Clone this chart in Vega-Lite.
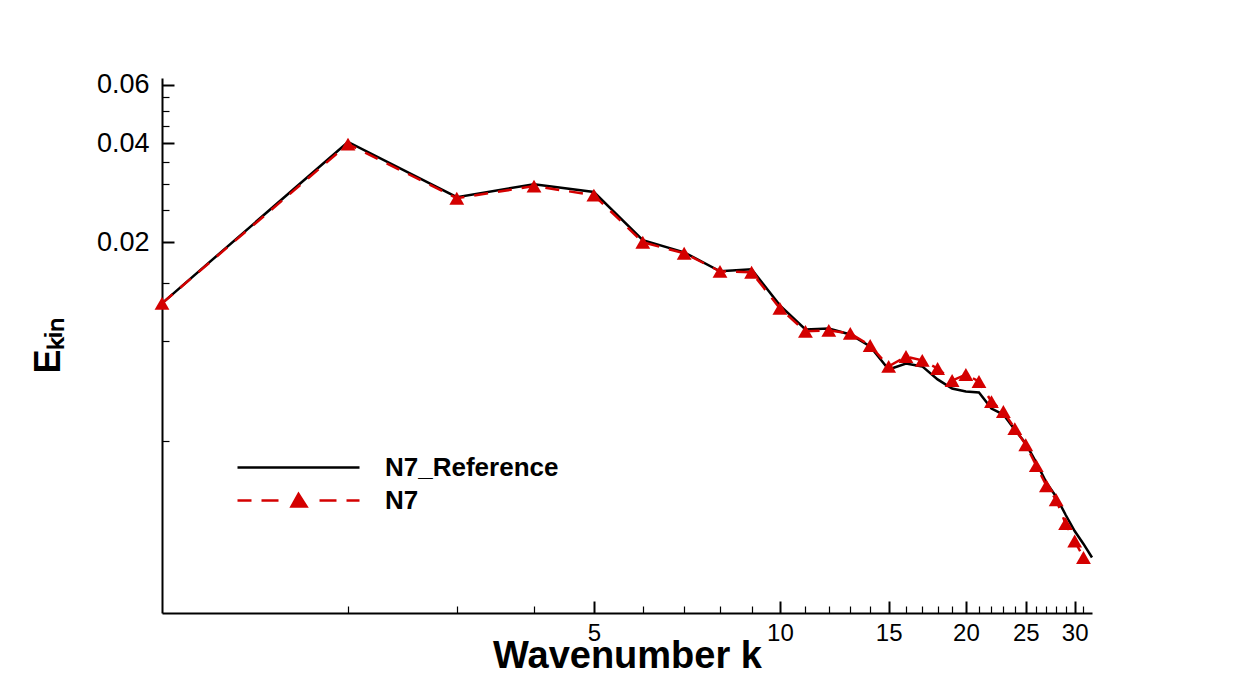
{
  "$schema": "https://vega.github.io/schema/vega-lite/v6.json",
  "width": 930,
  "height": 535,
  "autosize": {"type": "none"},
  "padding": {"left": 162, "top": 78, "right": 150, "bottom": 79},
  "background": "white",
  "config": {
    "view": {"stroke": null},
    "axis": {
      "grid": false,
      "domainColor": "black",
      "domainWidth": 2,
      "tickColor": "black",
      "labelFont": "Liberation Sans",
      "labelColor": "black",
      "titleFont": "Liberation Sans",
      "titleColor": "black",
      "titleFontWeight": "bold",
      "labelOverlap": false
    }
  },
  "data": {
    "values": [
      {"series": "N7_Reference", "k": 1, "E": 0.01305},
      {"series": "N7_Reference", "k": 2, "E": 0.0403},
      {"series": "N7_Reference", "k": 3, "E": 0.0274},
      {"series": "N7_Reference", "k": 4, "E": 0.0300},
      {"series": "N7_Reference", "k": 5, "E": 0.0284},
      {"series": "N7_Reference", "k": 6, "E": 0.0203},
      {"series": "N7_Reference", "k": 7, "E": 0.01864},
      {"series": "N7_Reference", "k": 8, "E": 0.01632},
      {"series": "N7_Reference", "k": 9, "E": 0.01656},
      {"series": "N7_Reference", "k": 10, "E": 0.01287},
      {"series": "N7_Reference", "k": 11, "E": 0.01088},
      {"series": "N7_Reference", "k": 12, "E": 0.01095},
      {"series": "N7_Reference", "k": 13, "E": 0.0105},
      {"series": "N7_Reference", "k": 14, "E": 0.00966},
      {"series": "N7_Reference", "k": 15, "E": 0.00822},
      {"series": "N7_Reference", "k": 16, "E": 0.00857},
      {"series": "N7_Reference", "k": 17, "E": 0.0084},
      {"series": "N7_Reference", "k": 18, "E": 0.00767},
      {"series": "N7_Reference", "k": 19, "E": 0.0072},
      {"series": "N7_Reference", "k": 20, "E": 0.00705},
      {"series": "N7_Reference", "k": 21, "E": 0.0070},
      {"series": "N7_Reference", "k": 22, "E": 0.00626},
      {"series": "N7_Reference", "k": 23, "E": 0.0060},
      {"series": "N7_Reference", "k": 24, "E": 0.0054},
      {"series": "N7_Reference", "k": 25, "E": 0.0049},
      {"series": "N7_Reference", "k": 26, "E": 0.00429},
      {"series": "N7_Reference", "k": 27, "E": 0.00373},
      {"series": "N7_Reference", "k": 28, "E": 0.00338},
      {"series": "N7_Reference", "k": 29, "E": 0.00298},
      {"series": "N7_Reference", "k": 30, "E": 0.00266},
      {"series": "N7_Reference", "k": 31, "E": 0.00243},
      {"series": "N7_Reference", "k": 32, "E": 0.00221},
      {"series": "N7", "k": 1, "E": 0.01305},
      {"series": "N7", "k": 2, "E": 0.0397},
      {"series": "N7", "k": 3, "E": 0.0272},
      {"series": "N7", "k": 4, "E": 0.0296},
      {"series": "N7", "k": 5, "E": 0.0278},
      {"series": "N7", "k": 6, "E": 0.0200},
      {"series": "N7", "k": 7, "E": 0.01852},
      {"series": "N7", "k": 8, "E": 0.01632},
      {"series": "N7", "k": 9, "E": 0.01622},
      {"series": "N7", "k": 10, "E": 0.0126},
      {"series": "N7", "k": 11, "E": 0.01073},
      {"series": "N7", "k": 12, "E": 0.0108},
      {"series": "N7", "k": 13, "E": 0.01058},
      {"series": "N7", "k": 14, "E": 0.00972},
      {"series": "N7", "k": 15, "E": 0.0084},
      {"series": "N7", "k": 16, "E": 0.0090},
      {"series": "N7", "k": 17, "E": 0.00876},
      {"series": "N7", "k": 18, "E": 0.00828},
      {"series": "N7", "k": 19, "E": 0.00761},
      {"series": "N7", "k": 20, "E": 0.00794},
      {"series": "N7", "k": 21, "E": 0.00756},
      {"series": "N7", "k": 22, "E": 0.00657},
      {"series": "N7", "k": 23, "E": 0.00613},
      {"series": "N7", "k": 24, "E": 0.00544},
      {"series": "N7", "k": 25, "E": 0.00486},
      {"series": "N7", "k": 26, "E": 0.0042},
      {"series": "N7", "k": 27, "E": 0.00365},
      {"series": "N7", "k": 28, "E": 0.00331},
      {"series": "N7", "k": 29, "E": 0.0028},
      {"series": "N7", "k": 30, "E": 0.00248},
      {"series": "N7", "k": 31, "E": 0.00221}
    ]
  },
  "layer": [
    {
      "transform": [{"filter": "datum.series == 'N7_Reference'"}],
      "mark": {"type": "line", "strokeWidth": 2.5},
      "encoding": {
        "x": {
          "field": "k",
          "type": "quantitative",
          "scale": {"type": "log", "domain": [1, 32], "nice": false},
          "axis": {
            "values": [2, 3, 4, 5, 6, 7, 8, 9, 10, 11, 12, 13, 14, 15, 16, 17, 18, 19, 20, 21, 22, 23, 24, 25, 26, 27, 28, 29, 30, 31],
            "format": "d",
            "labelExpr": "datum.value % 5 == 0 ? datum.label : ''",
            "labelFontSize": 24,
            "tickSize": {"condition": {"test": "datum.value % 5 == 0", "value": -12}, "value": -7},
            "tickWidth": {"condition": {"test": "datum.value % 5 == 0", "value": 2}, "value": 1.2},
            "labelPadding": 20,
            "title": "Wavenumber k",
            "titleFontSize": 38,
            "titlePadding": -13
          }
        },
        "y": {
          "field": "E",
          "type": "quantitative",
          "scale": {"type": "log", "domain": [0.0015, 0.063], "nice": false},
          "axis": {
            "values": [0.005, 0.01, 0.015, 0.02, 0.025, 0.03, 0.035, 0.04, 0.045, 0.05, 0.055, 0.06],
            "labelExpr": "indexof([0.02, 0.04, 0.06], datum.value) >= 0 ? format(datum.value, '.2f') : ''",
            "labelFontSize": 27,
            "tickSize": {"condition": {"test": "indexof([0.02, 0.04, 0.06], datum.value) >= 0", "value": -12}, "value": -7},
            "tickWidth": {"condition": {"test": "indexof([0.02, 0.04, 0.06], datum.value) >= 0", "value": 2}, "value": 1.2},
            "labelPadding": 25,
            "title": "Eₖᵢₙ",
            "titleFontSize": 36,
            "titlePadding": 29
          }
        },
        "color": {
          "field": "series",
          "type": "nominal",
          "scale": {"domain": ["N7_Reference", "N7"], "range": ["#000000", "#d40000"]},
          "legend": {
            "orient": "none",
            "legendX": 74,
            "legendY": 375,
            "direction": "vertical",
            "title": null,
            "padding": 0,
            "symbolType": "stroke",
            "symbolSize": 676,
            "symbolStrokeWidth": 2.5,
            "labelFont": "Liberation Sans",
            "labelFontSize": 26,
            "labelFontWeight": "bold",
            "labelColor": "black",
            "labelOffset": 120,
            "labelLimit": 400,
            "rowPadding": 5,
            "encode": {
              "symbols": {
                "update": {
                  "shape": {"signal": "datum.value == 'N7' ? 'M-1,0H0.077M0.846,0H2.154M5.308,0H6.615M7.385,0H8.385M3.154,0.46L4.308,0.46L3.692,-0.5Z' : 'M-1,0H8.385'"},
                  "fill": {"signal": "datum.value == 'N7' ? '#d40000' : 'transparent'"}
                }
              }
            }
          }
        }
      }
    },
    {
      "transform": [{"filter": "datum.series == 'N7'"}],
      "mark": {"type": "line", "strokeWidth": 2.5, "strokeDash": [14, 10]},
      "encoding": {
        "x": {"field": "k", "type": "quantitative"},
        "y": {"field": "E", "type": "quantitative"},
        "color": {"field": "series", "type": "nominal"}
      }
    },
    {
      "transform": [{"filter": "datum.series == 'N7'"}],
      "mark": {"type": "point", "shape": "triangle-up", "filled": true, "color": "#d40000", "opacity": 1, "size": 220},
      "encoding": {
        "x": {"field": "k", "type": "quantitative"},
        "y": {"field": "E", "type": "quantitative"}
      }
    }
  ]
}
